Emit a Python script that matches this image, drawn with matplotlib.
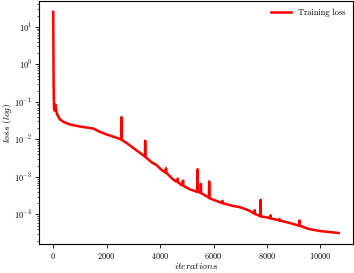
import matplotlib
matplotlib.use("Agg")
import matplotlib.pyplot as plt

plt.rcParams['font.family'] = 'serif'
plt.rcParams['font.serif'] = ['cmr10']
plt.rcParams['mathtext.fontset'] = 'cm'
plt.rcParams['axes.formatter.use_mathtext'] = True
plt.rcParams['axes.unicode_minus'] = False

# training loss
iters = [0, 15, 30, 60, 80, 100, 150, 250, 400, 620, 1000, 1500, 1740, 2000,
         2300, 2540, 2550, 2560, 2800, 3100, 3430, 3440, 3450, 3700, 3850,
         4075, 4210, 4220, 4230, 4450, 4600, 4660, 4670, 4800, 4860, 4870,
         5100, 5390, 5400, 5410, 5515, 5525, 5535, 5825, 5835, 5845, 6100,
         6320, 6330, 6340, 6700, 7000, 7300, 7530, 7540, 7550, 7750, 7760,
         7770, 8120, 8130, 8140, 8460, 8470, 8480, 8815, 9200, 9210, 9230,
         9560, 10000, 10680]
loss = [25.0, 0.3, 0.065, 0.058, 0.085, 0.062, 0.046, 0.034, 0.029, 0.025,
        0.022, 0.0195, 0.016, 0.0135, 0.0115, 0.0100, 0.039, 0.0098, 0.0075,
        0.0052, 0.0035, 0.0092, 0.0034, 0.0024, 0.0021, 0.0015, 0.0013,
        0.0017, 0.0013, 0.0009, 0.00075, 0.0009, 0.00072, 0.00060, 0.00080,
        0.00058, 0.00047, 0.00040, 0.0016, 0.00040, 0.00038, 0.00065,
        0.00037, 0.00028, 0.00076, 0.00027, 0.00023, 0.00020, 0.00023,
        0.00020, 0.00017, 0.000155, 0.00013, 0.000105, 0.00013, 0.000103,
        0.00009, 0.000245, 0.000089, 0.00008, 0.000095, 0.000078, 0.00007,
        0.000075, 0.000069, 0.00006, 0.00005, 0.000069, 0.00005, 0.000041,
        0.000036, 0.000032]

fig = plt.figure(figsize=(3.54, 2.73), dpi=100)
ax = fig.add_axes([0.110, 0.106, 0.887, 0.891])
ax.plot(iters, loss, color='red', linewidth=1.8, label='Training loss')
ax.set_yscale('log')
ax.set_xticks([0, 2000, 4000, 6000, 8000, 10000])
ax.set_xlabel(r'$iterations$', fontsize=7, labelpad=0)
ax.set_ylabel(r'$loss\ (log)$', fontsize=7, labelpad=0)
ax.tick_params(labelsize=6, length=3, width=0.6, pad=2)
ax.tick_params(which='minor', length=1.6, width=0.5)
for s in ax.spines.values():
    s.set_linewidth(0.8)
ax.legend(loc='upper right', fontsize=6, frameon=False, handlelength=2.4)

fig.savefig('out.png', dpi=100)
